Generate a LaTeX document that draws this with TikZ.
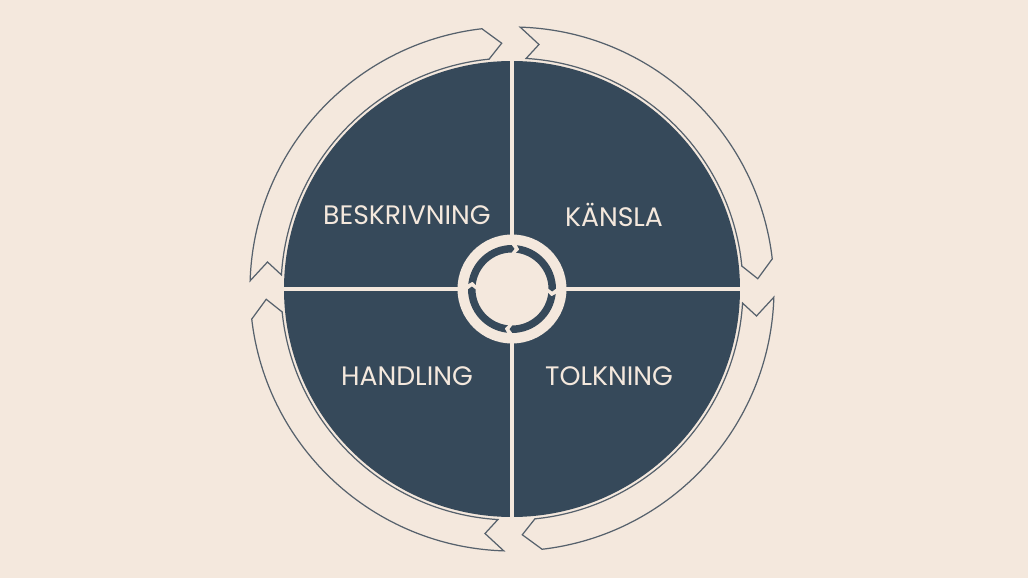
\documentclass[tikz,border=0pt]{standalone}
\usepackage{fontspec}
\setmainfont{Poppins}
\definecolor{cream}{HTML}{F4E8DD}
\definecolor{slate}{HTML}{36495A}
\definecolor{rim}{HTML}{56616C}
\tikzset{
  outline/.style={draw=rim, line width=0.7pt, fill=cream},
  quarter/.style={text=cream, font=\fontsize{15.2}{17}\selectfont},
  ringarrow/.style={fill=slate}
}
\begin{document}
\begin{tikzpicture}[x=0.02cm, y=0.02cm]
      \useasboundingbox[fill=cream] (-512,-289) rectangle (516,289);
      % outer arrows, clockwise
      \draw[outline] (178.2:262) arc[start angle=178.2, end angle=96.6, radius=262]
        -- (92.4:246) -- (95.7:231) arc[start angle=95.7, end angle=176.5, radius=231]
        -- (173.7:246) -- cycle;
      \draw[outline] (88.2:262) arc[start angle=88.2, end angle=6.6, radius=262]
        -- (2.4:246) -- (5.7:231) arc[start angle=5.7, end angle=86.5, radius=231]
        -- (83.7:246) -- cycle;
      \draw[outline] (-1.8:262) arc[start angle=-1.8, end angle=-83.4, radius=262]
        -- (-87.6:246) -- (-84.3:231) arc[start angle=-84.3, end angle=-3.5, radius=231]
        -- (-6.3:246) -- cycle;
      \draw[outline] (-91.8:262) arc[start angle=-91.8, end angle=-173.4, radius=262]
        -- (-177.6:246) -- (-174.3:231) arc[start angle=-174.3, end angle=-93.5, radius=231]
        -- (-96.3:246) -- cycle;
      % disc and quarters
      \fill[slate] (0,0) circle (228);
      \begin{scope}[cream, line width=2pt]
        \draw (90:229) -- (-90:229);
        \draw (180:229) -- (0:229);
      \end{scope}
      \node[circle, fill=cream, minimum size=109*0.02cm, inner sep=0pt] (hub) at (0,0) {};
      % inner ring arrows
      \fill[ringarrow] (83.5:44) arc[start angle=83.5, end angle=0.5, radius=44]
        -- (-3.5:40.25) -- (0.5:36.5) arc[start angle=0.5, end angle=83.5, radius=36.5]
        -- (79.5:40.25) -- cycle;
      \fill[ringarrow] (-6.5:44) arc[start angle=-6.5, end angle=-89.5, radius=44]
        -- (-93.5:40.25) -- (-89.5:36.5) arc[start angle=-89.5, end angle=-6.5, radius=36.5]
        -- (-10.5:40.25) -- cycle;
      \fill[ringarrow] (-96.5:44) arc[start angle=-96.5, end angle=-179.5, radius=44]
        -- (-183.5:40.25) -- (-179.5:36.5) arc[start angle=-179.5, end angle=-96.5, radius=36.5]
        -- (-100.5:40.25) -- cycle;
      \fill[ringarrow] (173.5:44) arc[start angle=173.5, end angle=90.5, radius=44]
        -- (86.5:40.25) -- (90.5:36.5) arc[start angle=90.5, end angle=173.5, radius=36.5]
        -- (169.5:40.25) -- cycle;
      % labels
      \draw[quarter]
        (-105,74) node (beskrivning){BESKRIVNING}
        (102,74) node (kansla){KÄNSLA}
        (-105,-87) node (handling){HANDLING}
        (97,-87) node (tolkning){TOLKNING};
    \end{tikzpicture}
\end{document}
